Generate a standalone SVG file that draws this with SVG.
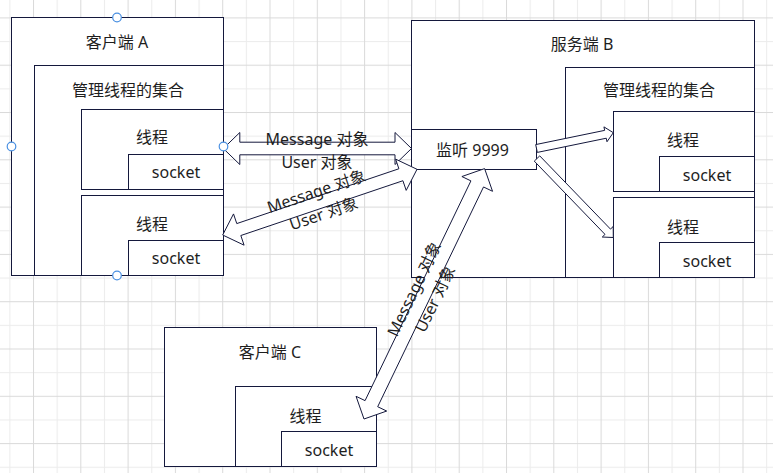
<svg xmlns="http://www.w3.org/2000/svg" width="773" height="473" viewBox="0 0 773 473">
<style>
.box{fill:#ffffff;stroke:#14183c;stroke-width:1}
.t{font-family:'Noto Sans','Noto Sans CJK SC',sans-serif;font-size:16px;fill:#1e1e1e;text-anchor:middle;dominant-baseline:central}
.arrow{fill:#ffffff;stroke:#14183c;stroke-width:1;stroke-linejoin:miter}
.handle{fill:#ffffff;stroke:#4a90e2;stroke-width:1.2}
</style>
<defs>
<pattern id="grid" patternUnits="userSpaceOnUse" x="33" y="17.4" width="47.3" height="47.3">
<rect x="0" y="0" width="47.3" height="47.3" fill="#ffffff"/>
<rect x="23.65" y="0" width="1" height="47.3" fill="#ececec"/>
<rect x="0" y="23.65" width="47.3" height="1" fill="#ececec"/>
<rect x="0" y="0" width="1" height="47.3" fill="#dadada"/>
<rect x="0" y="0" width="47.3" height="1" fill="#dadada"/>
</pattern>
</defs>
<rect x="0" y="0" width="773" height="473" fill="url(#grid)"/>

<g id="client-a">
<rect class="box" x="11.5" y="17.5" width="212" height="258"/>
<text class="t" x="117" y="42">客户端 A</text>
</g>
<g id="client-a-collection">
<rect class="box" x="34.5" y="65.5" width="189" height="210"/>
<text class="t" x="128" y="89.5">管理线程的集合</text>
</g>
<g id="client-a-thread-1">
<rect class="box" x="81.5" y="109.5" width="142" height="80"/>
<text class="t" x="152" y="137">线程</text>
</g>
<g id="client-a-socket-1">
<rect class="box" x="128.5" y="154.5" width="95" height="35"/>
<text class="t" x="176" y="172">socket</text>
</g>
<g id="client-a-thread-2">
<rect class="box" x="81.5" y="195.5" width="142" height="80"/>
<text class="t" x="152" y="224">线程</text>
</g>
<g id="client-a-socket-2">
<rect class="box" x="128.5" y="240.5" width="95" height="35"/>
<text class="t" x="176" y="258">socket</text>
</g>

<g id="server-b">
<rect class="box" x="411.5" y="20.5" width="343" height="257"/>
<text class="t" x="582" y="43.5">服务端 B</text>
</g>
<g id="server-b-collection">
<rect class="box" x="565.5" y="67.5" width="189" height="210"/>
<text class="t" x="659" y="90">管理线程的集合</text>
</g>
<g id="server-b-thread-1">
<rect class="box" x="613.5" y="111.5" width="141" height="80"/>
<text class="t" x="683" y="140">线程</text>
</g>
<g id="server-b-socket-1">
<rect class="box" x="659.5" y="156.5" width="95" height="35"/>
<text class="t" x="707" y="175">socket</text>
</g>
<g id="server-b-thread-2">
<rect class="box" x="613.5" y="197.5" width="141" height="80"/>
<text class="t" x="683" y="227">线程</text>
</g>
<g id="server-b-socket-2">
<rect class="box" x="659.5" y="242.5" width="95" height="35"/>
<text class="t" x="707" y="261">socket</text>
</g>
<g id="server-b-listen">
<rect class="box" x="411.5" y="129.5" width="125" height="40"/>
<text class="t" x="472.5" y="150">监听 9999</text>
</g>

<g id="client-c">
<rect class="box" x="164.5" y="327.5" width="212" height="139"/>
<text class="t" x="270" y="352">客户端 C</text>
</g>
<g id="client-c-thread">
<rect class="box" x="235.5" y="386.5" width="141" height="80"/>
<text class="t" x="305.5" y="416">线程</text>
</g>
<g id="client-c-socket">
<rect class="box" x="281.5" y="431.5" width="95" height="35"/>
<text class="t" x="329" y="450">socket</text>
</g>

<g id="connectors">
<g id="edge-a1-listen">
<polygon class="arrow" points="223.3,148.5 239.8,132.5 239.8,142.2 395,142.2 395,132.5 411.5,148.5 395,164.5 395,154.8 239.8,154.8 239.8,164.5"/>
<text class="t" x="317" y="138.5">Message 对象</text>
<text class="t" x="317" y="162">User 对象</text>
</g>
<g id="edge-a2-listen">
<polygon class="arrow" points="222.7,235 233.52,213.92 236.78,223.58 398.88,168.78 395.62,159.12 417,169.3 406.19,190.38 402.92,180.72 240.82,235.52 244.09,245.18"/>
<text class="t" transform="translate(316.2,191.1) rotate(-18.68)">Message 对象</text>
<text class="t" transform="translate(323.6,213.3) rotate(-18.68)">User 对象</text>
</g>
<g id="edge-c-listen">
<polygon class="arrow" points="364,419 356.06,396.3 365.07,400.64 470.91,180.88 461.9,176.54 484.6,168.6 492.54,191.3 483.53,186.96 377.69,406.72 386.7,411.06"/>
<text class="t" transform="translate(413.8,288.7) rotate(-64.3)">Message 对象</text>
<text class="t" transform="translate(434.8,298.9) rotate(-64.3)">User 对象</text>
</g>
<g id="edge-listen-b1">
<polygon class="arrow" points="535.69,144.58 604.65,130.39 603.93,126.87 613.3,132.7 606.99,141.76 606.27,138.23 537.31,152.42"/>
</g>
<g id="edge-listen-b2">
<polygon class="arrow" points="539.73,155.86 610.47,229.1 613.21,226.46 613.3,237.5 602.27,237.02 605.01,234.38 534.27,161.14"/>
</g>
</g>

<g id="selection-handles">
<circle class="handle" cx="117" cy="17.5" r="4.3"/>
<circle class="handle" cx="11.5" cy="146.5" r="4.3"/>
<circle class="handle" cx="223.5" cy="146.5" r="4.3"/>
<circle class="handle" cx="117" cy="275.5" r="4.3"/>
</g>
</svg>
